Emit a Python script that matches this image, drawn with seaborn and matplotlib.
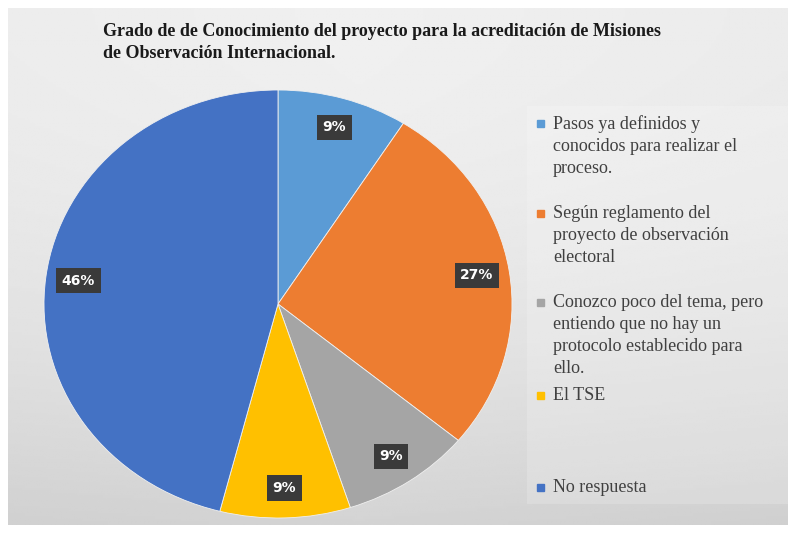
import numpy as np
import matplotlib.pyplot as plt
import seaborn as sns
from matplotlib.patches import Rectangle

sns.set_theme(style="white")

# data
categorias = [
    "Pasos ya definidos y\nconocidos para realizar el\nproceso.",
    "Según reglamento del\nproyecto de observación\nelectoral",
    "Conozco poco del tema, pero\nentiendo que no hay un\nprotocolo establecido para\nello.",
    "El TSE",
    "No respuesta",
]
porcentajes = [9, 27, 9, 9, 46]
colores = ["#5B9BD5", "#ED7D31", "#A5A5A5", "#FFC000", "#4472C4"]
titulo = ("Grado de de Conocimiento del proyecto para la acreditación de Misiones\n"
          "de Observación Internacional.")

# layout (pixels from top of the 788x533 canvas)
W, H = 788, 533
legend_tops = [123, 213, 302, 395, 487]

fig = plt.figure(figsize=(W / 100, H / 100), dpi=100)
fig.patch.set_facecolor("white")

# gradient background of the chart area
bg = fig.add_axes([8 / W, 8 / H, 1 - 8 / W, 1 - 16 / H])
yy, xx = np.mgrid[0:1:200j, 0:1:300j]
shade = 0.94 - 0.11 * yy ** 2 - 0.03 * np.abs(xx - 0.45)
bg.imshow(shade, cmap="gray", vmin=0, vmax=1, aspect="auto", extent=(0, 1, 0, 1), origin="upper")
bg.add_patch(Rectangle((0.665, 0.04), 0.335, 0.77, color="white", alpha=0.18, lw=0))
bg.set_axis_off()

# pie
ax = fig.add_axes([44 / W, (H - 518) / H, 468 / W, 428 / H])
wedges, texts, autotexts = ax.pie(
    porcentajes,
    colors=colores,
    startangle=90,
    counterclock=False,
    autopct="%1.0f%%",
    pctdistance=0.86,
    wedgeprops=dict(edgecolor="#f0f0f0", linewidth=0.6),
    textprops=dict(color="white", fontsize=10, fontweight="bold", family="DejaVu Sans"),
)
for t in autotexts:
    t.set_bbox(dict(boxstyle="square,pad=0.4", fc="#3a3a3a", ec="none"))
ax.set_aspect("auto")
ax.set_xlim(-1, 1)
ax.set_ylim(-1, 1)
ax.set_axis_off()

# title
fig.text(103 / W, 1 - 23 / H, titulo, ha="left", va="top", fontsize=13,
         fontweight="bold", family="Liberation Serif", color="#1a1a1a", linespacing=1.4)

# legend drawn as text entries with square markers
for lab, col, ytop in zip(categorias, colores, legend_tops):
    fig.patches.append(Rectangle((537 / W, 1 - (ytop + 4) / H), 7 / W, 7 / H,
                                 transform=fig.transFigure, color=col, figure=fig))
    fig.text(553 / W, 1 - (ytop - 8) / H, lab, ha="left", va="top", fontsize=13,
             family="Liberation Serif", color="#404040", linespacing=1.38)

fig.savefig("out.png", dpi=100)
